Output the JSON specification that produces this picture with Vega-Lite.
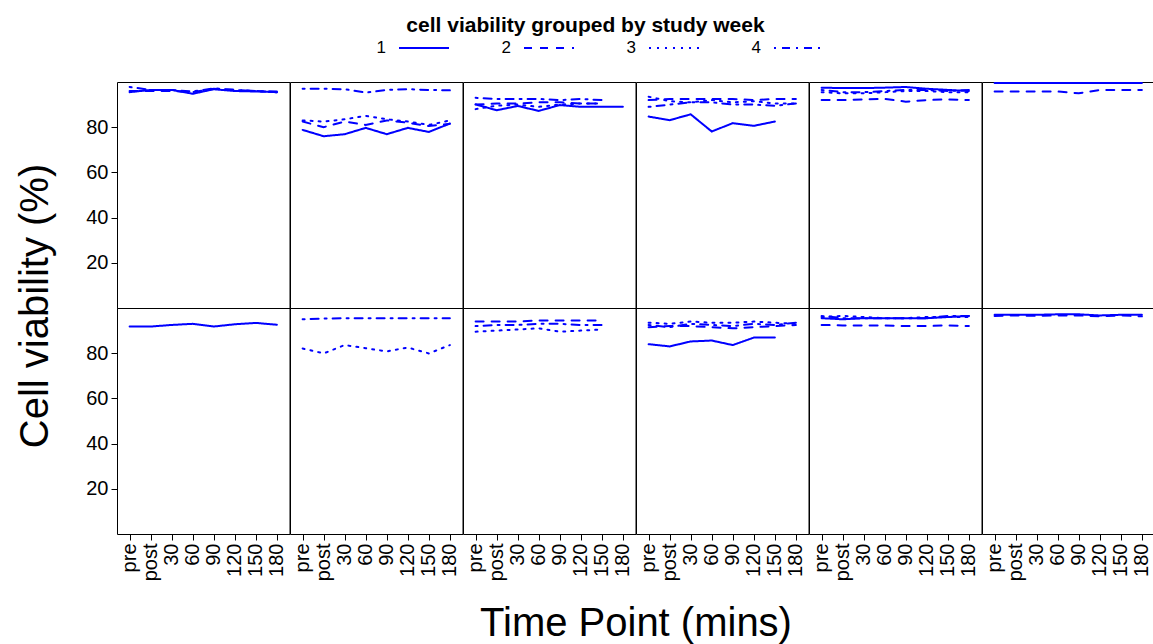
{
  "$schema": "https://vega.github.io/schema/vega-lite/v6.json",
  "padding": {"left": 15, "top": 15, "right": 0, "bottom": 0},
  "title": {"text": "cell viability grouped by study week", "fontSize": 21, "fontWeight": "bold", "font": "Liberation Sans", "color": "black", "anchor": "middle", "offset": -14},
  "data": {"values": [
    {"r":1,"c":1,"wk":"1","t":"pre","v":95.5},{"r":1,"c":1,"wk":"1","t":"post","v":96.5},{"r":1,"c":1,"wk":"1","t":"30","v":96.5},{"r":1,"c":1,"wk":"1","t":"60","v":94.8},{"r":1,"c":1,"wk":"1","t":"90","v":96.8},{"r":1,"c":1,"wk":"1","t":"120","v":96},{"r":1,"c":1,"wk":"1","t":"150","v":95.8},{"r":1,"c":1,"wk":"1","t":"180","v":95.5},
    {"r":1,"c":1,"wk":"2","t":"pre","v":96},{"r":1,"c":1,"wk":"2","t":"post","v":96},{"r":1,"c":1,"wk":"2","t":"30","v":96},{"r":1,"c":1,"wk":"2","t":"60","v":95.5},{"r":1,"c":1,"wk":"2","t":"90","v":97},{"r":1,"c":1,"wk":"2","t":"120","v":96.5},{"r":1,"c":1,"wk":"2","t":"150","v":96},{"r":1,"c":1,"wk":"2","t":"180","v":95.5},
    {"r":1,"c":1,"wk":"4","t":"pre","v":97.8},{"r":1,"c":1,"wk":"4","t":"post","v":96.5},{"r":1,"c":1,"wk":"4","t":"30","v":96.5},{"r":1,"c":1,"wk":"4","t":"60","v":95.8},{"r":1,"c":1,"wk":"4","t":"90","v":97.2},{"r":1,"c":1,"wk":"4","t":"120","v":96.5},{"r":1,"c":1,"wk":"4","t":"150","v":96},{"r":1,"c":1,"wk":"4","t":"180","v":95.8},

    {"r":1,"c":2,"wk":"1","t":"pre","v":78.8},{"r":1,"c":2,"wk":"1","t":"post","v":76},{"r":1,"c":2,"wk":"1","t":"30","v":76.9},{"r":1,"c":2,"wk":"1","t":"60","v":79.7},{"r":1,"c":2,"wk":"1","t":"90","v":76.9},{"r":1,"c":2,"wk":"1","t":"120","v":79.7},{"r":1,"c":2,"wk":"1","t":"150","v":77.9},{"r":1,"c":2,"wk":"1","t":"180","v":81.6},
    {"r":1,"c":2,"wk":"2","t":"pre","v":82.5},{"r":1,"c":2,"wk":"2","t":"post","v":80},{"r":1,"c":2,"wk":"2","t":"30","v":82.5},{"r":1,"c":2,"wk":"2","t":"60","v":81},{"r":1,"c":2,"wk":"2","t":"90","v":83},{"r":1,"c":2,"wk":"2","t":"120","v":82},{"r":1,"c":2,"wk":"2","t":"150","v":80.5},{"r":1,"c":2,"wk":"2","t":"180","v":81.5},
    {"r":1,"c":2,"wk":"3","t":"pre","v":83},{"r":1,"c":2,"wk":"3","t":"post","v":82.5},{"r":1,"c":2,"wk":"3","t":"30","v":83.5},{"r":1,"c":2,"wk":"3","t":"60","v":85},{"r":1,"c":2,"wk":"3","t":"90","v":83.5},{"r":1,"c":2,"wk":"3","t":"120","v":82.5},{"r":1,"c":2,"wk":"3","t":"150","v":81},{"r":1,"c":2,"wk":"3","t":"180","v":83},
    {"r":1,"c":2,"wk":"4","t":"pre","v":97},{"r":1,"c":2,"wk":"4","t":"post","v":97},{"r":1,"c":2,"wk":"4","t":"30","v":96.8},{"r":1,"c":2,"wk":"4","t":"60","v":95.3},{"r":1,"c":2,"wk":"4","t":"90","v":96.5},{"r":1,"c":2,"wk":"4","t":"120","v":96.8},{"r":1,"c":2,"wk":"4","t":"150","v":96.5},{"r":1,"c":2,"wk":"4","t":"180","v":96.3},

    {"r":1,"c":3,"wk":"1","t":"pre","v":90.1},{"r":1,"c":3,"wk":"1","t":"post","v":87.5},{"r":1,"c":3,"wk":"1","t":"30","v":89.4},{"r":1,"c":3,"wk":"1","t":"60","v":87.2},{"r":1,"c":3,"wk":"1","t":"90","v":89.8},{"r":1,"c":3,"wk":"1","t":"120","v":89},{"r":1,"c":3,"wk":"1","t":"150","v":89},{"r":1,"c":3,"wk":"1","t":"180","v":89},
    {"r":1,"c":3,"wk":"2","t":"pre","v":90},{"r":1,"c":3,"wk":"2","t":"post","v":90.5},{"r":1,"c":3,"wk":"2","t":"30","v":90.5},{"r":1,"c":3,"wk":"2","t":"60","v":91},{"r":1,"c":3,"wk":"2","t":"90","v":91},{"r":1,"c":3,"wk":"2","t":"120","v":90.5},{"r":1,"c":3,"wk":"2","t":"150","v":90.5},
    {"r":1,"c":3,"wk":"3","t":"pre","v":88},{"r":1,"c":3,"wk":"3","t":"post","v":89.5},{"r":1,"c":3,"wk":"3","t":"30","v":90},{"r":1,"c":3,"wk":"3","t":"60","v":89},{"r":1,"c":3,"wk":"3","t":"90","v":90},{"r":1,"c":3,"wk":"3","t":"120","v":90.5},{"r":1,"c":3,"wk":"3","t":"150","v":90.5},
    {"r":1,"c":3,"wk":"4","t":"pre","v":93},{"r":1,"c":3,"wk":"4","t":"post","v":92.5},{"r":1,"c":3,"wk":"4","t":"30","v":92.5},{"r":1,"c":3,"wk":"4","t":"60","v":92.5},{"r":1,"c":3,"wk":"4","t":"90","v":92},{"r":1,"c":3,"wk":"4","t":"120","v":92.5},{"r":1,"c":3,"wk":"4","t":"150","v":92},

    {"r":1,"c":4,"wk":"1","t":"pre","v":84.7},{"r":1,"c":4,"wk":"1","t":"post","v":83.1},{"r":1,"c":4,"wk":"1","t":"30","v":85.7},{"r":1,"c":4,"wk":"1","t":"60","v":78.1},{"r":1,"c":4,"wk":"1","t":"90","v":81.8},{"r":1,"c":4,"wk":"1","t":"120","v":80.6},{"r":1,"c":4,"wk":"1","t":"150","v":82.5},
    {"r":1,"c":4,"wk":"2","t":"pre","v":92},{"r":1,"c":4,"wk":"2","t":"post","v":92.5},{"r":1,"c":4,"wk":"2","t":"30","v":92.5},{"r":1,"c":4,"wk":"2","t":"60","v":92.5},{"r":1,"c":4,"wk":"2","t":"90","v":92.5},{"r":1,"c":4,"wk":"2","t":"120","v":92},{"r":1,"c":4,"wk":"2","t":"150","v":92.5},{"r":1,"c":4,"wk":"2","t":"180","v":92.5},
    {"r":1,"c":4,"wk":"3","t":"pre","v":93.5},{"r":1,"c":4,"wk":"3","t":"post","v":91.5},{"r":1,"c":4,"wk":"3","t":"30","v":91},{"r":1,"c":4,"wk":"3","t":"60","v":92},{"r":1,"c":4,"wk":"3","t":"90","v":91},{"r":1,"c":4,"wk":"3","t":"120","v":91.5},{"r":1,"c":4,"wk":"3","t":"150","v":90.5},{"r":1,"c":4,"wk":"3","t":"180","v":90.5},
    {"r":1,"c":4,"wk":"4","t":"pre","v":89},{"r":1,"c":4,"wk":"4","t":"post","v":90},{"r":1,"c":4,"wk":"4","t":"30","v":91},{"r":1,"c":4,"wk":"4","t":"60","v":91},{"r":1,"c":4,"wk":"4","t":"90","v":90},{"r":1,"c":4,"wk":"4","t":"120","v":90},{"r":1,"c":4,"wk":"4","t":"150","v":89.5},{"r":1,"c":4,"wk":"4","t":"180","v":90.5},

    {"r":1,"c":5,"wk":"1","t":"pre","v":97.5},{"r":1,"c":5,"wk":"1","t":"post","v":97.3},{"r":1,"c":5,"wk":"1","t":"30","v":97.3},{"r":1,"c":5,"wk":"1","t":"60","v":97.5},{"r":1,"c":5,"wk":"1","t":"90","v":97.8},{"r":1,"c":5,"wk":"1","t":"120","v":97},{"r":1,"c":5,"wk":"1","t":"150","v":96.5},{"r":1,"c":5,"wk":"1","t":"180","v":96},
    {"r":1,"c":5,"wk":"2","t":"pre","v":92},{"r":1,"c":5,"wk":"2","t":"post","v":92},{"r":1,"c":5,"wk":"2","t":"30","v":92.3},{"r":1,"c":5,"wk":"2","t":"60","v":92.5},{"r":1,"c":5,"wk":"2","t":"90","v":91.3},{"r":1,"c":5,"wk":"2","t":"120","v":92},{"r":1,"c":5,"wk":"2","t":"150","v":92.3},{"r":1,"c":5,"wk":"2","t":"180","v":92},
    {"r":1,"c":5,"wk":"3","t":"pre","v":95.5},{"r":1,"c":5,"wk":"3","t":"post","v":95},{"r":1,"c":5,"wk":"3","t":"30","v":95},{"r":1,"c":5,"wk":"3","t":"60","v":95.5},{"r":1,"c":5,"wk":"3","t":"90","v":96},{"r":1,"c":5,"wk":"3","t":"120","v":96},{"r":1,"c":5,"wk":"3","t":"150","v":95.5},{"r":1,"c":5,"wk":"3","t":"180","v":95.5},
    {"r":1,"c":5,"wk":"4","t":"pre","v":96.5},{"r":1,"c":5,"wk":"4","t":"post","v":95.5},{"r":1,"c":5,"wk":"4","t":"30","v":95.5},{"r":1,"c":5,"wk":"4","t":"60","v":96},{"r":1,"c":5,"wk":"4","t":"90","v":96.5},{"r":1,"c":5,"wk":"4","t":"120","v":96.5},{"r":1,"c":5,"wk":"4","t":"150","v":96},{"r":1,"c":5,"wk":"4","t":"180","v":96.5},

    {"r":1,"c":6,"wk":"1","t":"pre","v":99.6},{"r":1,"c":6,"wk":"1","t":"post","v":99.6},{"r":1,"c":6,"wk":"1","t":"30","v":99.6},{"r":1,"c":6,"wk":"1","t":"60","v":99.6},{"r":1,"c":6,"wk":"1","t":"90","v":99.6},{"r":1,"c":6,"wk":"1","t":"120","v":99.6},{"r":1,"c":6,"wk":"1","t":"150","v":99.6},{"r":1,"c":6,"wk":"1","t":"180","v":99.6},
    {"r":1,"c":6,"wk":"2","t":"pre","v":95.8},{"r":1,"c":6,"wk":"2","t":"post","v":95.8},{"r":1,"c":6,"wk":"2","t":"30","v":95.8},{"r":1,"c":6,"wk":"2","t":"60","v":95.8},{"r":1,"c":6,"wk":"2","t":"90","v":95},{"r":1,"c":6,"wk":"2","t":"120","v":96.5},{"r":1,"c":6,"wk":"2","t":"150","v":96.5},{"r":1,"c":6,"wk":"2","t":"180","v":96.5},

    {"r":2,"c":1,"wk":"1","t":"pre","v":91.8},{"r":2,"c":1,"wk":"1","t":"post","v":91.8},{"r":2,"c":1,"wk":"1","t":"30","v":92.5},{"r":2,"c":1,"wk":"1","t":"60","v":93},{"r":2,"c":1,"wk":"1","t":"90","v":91.8},{"r":2,"c":1,"wk":"1","t":"120","v":92.8},{"r":2,"c":1,"wk":"1","t":"150","v":93.4},{"r":2,"c":1,"wk":"1","t":"180","v":92.6},

    {"r":2,"c":2,"wk":"3","t":"pre","v":82.1},{"r":2,"c":2,"wk":"3","t":"post","v":79.9},{"r":2,"c":2,"wk":"3","t":"30","v":83.6},{"r":2,"c":2,"wk":"3","t":"60","v":82.2},{"r":2,"c":2,"wk":"3","t":"90","v":80.8},{"r":2,"c":2,"wk":"3","t":"120","v":82.5},{"r":2,"c":2,"wk":"3","t":"150","v":79.9},{"r":2,"c":2,"wk":"3","t":"180","v":83.6},
    {"r":2,"c":2,"wk":"4","t":"pre","v":95},{"r":2,"c":2,"wk":"4","t":"post","v":95.3},{"r":2,"c":2,"wk":"4","t":"30","v":95.5},{"r":2,"c":2,"wk":"4","t":"60","v":95.5},{"r":2,"c":2,"wk":"4","t":"90","v":95.5},{"r":2,"c":2,"wk":"4","t":"120","v":95.5},{"r":2,"c":2,"wk":"4","t":"150","v":95.5},{"r":2,"c":2,"wk":"4","t":"180","v":95.5},

    {"r":2,"c":3,"wk":"2","t":"pre","v":94},{"r":2,"c":3,"wk":"2","t":"post","v":94},{"r":2,"c":3,"wk":"2","t":"30","v":94},{"r":2,"c":3,"wk":"2","t":"60","v":94.5},{"r":2,"c":3,"wk":"2","t":"90","v":94.5},{"r":2,"c":3,"wk":"2","t":"120","v":94.5},{"r":2,"c":3,"wk":"2","t":"150","v":94.5},
    {"r":2,"c":3,"wk":"3","t":"pre","v":89.5},{"r":2,"c":3,"wk":"3","t":"post","v":90},{"r":2,"c":3,"wk":"3","t":"30","v":90.5},{"r":2,"c":3,"wk":"3","t":"60","v":91},{"r":2,"c":3,"wk":"3","t":"90","v":89.5},{"r":2,"c":3,"wk":"3","t":"120","v":90},{"r":2,"c":3,"wk":"3","t":"150","v":90.5},
    {"r":2,"c":3,"wk":"4","t":"pre","v":92},{"r":2,"c":3,"wk":"4","t":"post","v":92.5},{"r":2,"c":3,"wk":"4","t":"30","v":92.5},{"r":2,"c":3,"wk":"4","t":"60","v":93},{"r":2,"c":3,"wk":"4","t":"90","v":93},{"r":2,"c":3,"wk":"4","t":"120","v":92.5},{"r":2,"c":3,"wk":"4","t":"150","v":92.5},

    {"r":2,"c":4,"wk":"1","t":"pre","v":84},{"r":2,"c":4,"wk":"1","t":"post","v":83},{"r":2,"c":4,"wk":"1","t":"30","v":85.2},{"r":2,"c":4,"wk":"1","t":"60","v":85.6},{"r":2,"c":4,"wk":"1","t":"90","v":83.6},{"r":2,"c":4,"wk":"1","t":"120","v":86.9},{"r":2,"c":4,"wk":"1","t":"150","v":87},
    {"r":2,"c":4,"wk":"2","t":"pre","v":91.5},{"r":2,"c":4,"wk":"2","t":"post","v":92},{"r":2,"c":4,"wk":"2","t":"30","v":92},{"r":2,"c":4,"wk":"2","t":"60","v":91.5},{"r":2,"c":4,"wk":"2","t":"90","v":91},{"r":2,"c":4,"wk":"2","t":"120","v":91.5},{"r":2,"c":4,"wk":"2","t":"150","v":92},{"r":2,"c":4,"wk":"2","t":"180","v":92.5},
    {"r":2,"c":4,"wk":"3","t":"pre","v":93.5},{"r":2,"c":4,"wk":"3","t":"post","v":93},{"r":2,"c":4,"wk":"3","t":"30","v":94},{"r":2,"c":4,"wk":"3","t":"60","v":93.5},{"r":2,"c":4,"wk":"3","t":"90","v":93.5},{"r":2,"c":4,"wk":"3","t":"120","v":94},{"r":2,"c":4,"wk":"3","t":"150","v":93.5},{"r":2,"c":4,"wk":"3","t":"180","v":93},
    {"r":2,"c":4,"wk":"4","t":"pre","v":92.5},{"r":2,"c":4,"wk":"4","t":"post","v":91.5},{"r":2,"c":4,"wk":"4","t":"30","v":93},{"r":2,"c":4,"wk":"4","t":"60","v":92.5},{"r":2,"c":4,"wk":"4","t":"90","v":92},{"r":2,"c":4,"wk":"4","t":"120","v":93},{"r":2,"c":4,"wk":"4","t":"150","v":92.5},{"r":2,"c":4,"wk":"4","t":"180","v":93.5},

    {"r":2,"c":5,"wk":"1","t":"pre","v":95.5},{"r":2,"c":5,"wk":"1","t":"post","v":95},{"r":2,"c":5,"wk":"1","t":"30","v":95.5},{"r":2,"c":5,"wk":"1","t":"60","v":95.5},{"r":2,"c":5,"wk":"1","t":"90","v":95.5},{"r":2,"c":5,"wk":"1","t":"120","v":95.5},{"r":2,"c":5,"wk":"1","t":"150","v":96},{"r":2,"c":5,"wk":"1","t":"180","v":96.5},
    {"r":2,"c":5,"wk":"2","t":"pre","v":92.5},{"r":2,"c":5,"wk":"2","t":"post","v":92.3},{"r":2,"c":5,"wk":"2","t":"30","v":92.3},{"r":2,"c":5,"wk":"2","t":"60","v":92.3},{"r":2,"c":5,"wk":"2","t":"90","v":92},{"r":2,"c":5,"wk":"2","t":"120","v":92},{"r":2,"c":5,"wk":"2","t":"150","v":92.3},{"r":2,"c":5,"wk":"2","t":"180","v":92},
    {"r":2,"c":5,"wk":"3","t":"pre","v":96},{"r":2,"c":5,"wk":"3","t":"post","v":96.5},{"r":2,"c":5,"wk":"3","t":"30","v":96},{"r":2,"c":5,"wk":"3","t":"60","v":95.5},{"r":2,"c":5,"wk":"3","t":"90","v":95.5},{"r":2,"c":5,"wk":"3","t":"120","v":96},{"r":2,"c":5,"wk":"3","t":"150","v":96},{"r":2,"c":5,"wk":"3","t":"180","v":96},
    {"r":2,"c":5,"wk":"4","t":"pre","v":96.5},{"r":2,"c":5,"wk":"4","t":"post","v":95.5},{"r":2,"c":5,"wk":"4","t":"30","v":95.5},{"r":2,"c":5,"wk":"4","t":"60","v":95.5},{"r":2,"c":5,"wk":"4","t":"90","v":95.5},{"r":2,"c":5,"wk":"4","t":"120","v":95.5},{"r":2,"c":5,"wk":"4","t":"150","v":96.5},{"r":2,"c":5,"wk":"4","t":"180","v":96.5},

    {"r":2,"c":6,"wk":"1","t":"pre","v":97},{"r":2,"c":6,"wk":"1","t":"post","v":97},{"r":2,"c":6,"wk":"1","t":"30","v":97},{"r":2,"c":6,"wk":"1","t":"60","v":97.2},{"r":2,"c":6,"wk":"1","t":"90","v":97.2},{"r":2,"c":6,"wk":"1","t":"120","v":96.7},{"r":2,"c":6,"wk":"1","t":"150","v":97},{"r":2,"c":6,"wk":"1","t":"180","v":97},
    {"r":2,"c":6,"wk":"2","t":"pre","v":96.5},{"r":2,"c":6,"wk":"2","t":"post","v":96.7},{"r":2,"c":6,"wk":"2","t":"30","v":96.5},{"r":2,"c":6,"wk":"2","t":"60","v":96.7},{"r":2,"c":6,"wk":"2","t":"90","v":96.7},{"r":2,"c":6,"wk":"2","t":"120","v":96.3},{"r":2,"c":6,"wk":"2","t":"150","v":96.7},{"r":2,"c":6,"wk":"2","t":"180","v":96.3}
  ]},
  "facet": {
    "row": {"field": "r", "type": "ordinal", "header": {"labels": false, "title": "Cell viability (%)", "titleFontSize": 40, "titleFontWeight": "normal", "titleFont": "Liberation Sans", "titleColor": "black", "titlePadding": 19}},
    "column": {"field": "c", "type": "ordinal", "header": {"labels": false, "title": "Time Point (mins)", "titleOrient": "bottom", "titleFontSize": 40, "titleFontWeight": "normal", "titleFont": "Liberation Sans", "titleColor": "black", "titlePadding": 13}}
  },
  "spacing": 0,
  "bounds": "flush",
  "spec": {
    "width": 172.5,
    "height": 226,
    "mark": {"type": "line", "strokeWidth": 2, "color": "#0000ff", "strokeCap": "round"},
    "encoding": {
      "x": {"field": "t", "type": "ordinal", "sort": ["pre","post","30","60","90","120","150","180"], "scale": {"type": "point", "padding": 0.6},
        "axis": {"title": null, "labelAngle": 270, "labelFontSize": 20, "labelFont": "Liberation Sans", "labelColor": "black", "domain": false, "grid": false, "tickSize": 6, "tickColor": "black", "labelPadding": 3}},
      "y": {"field": "v", "type": "quantitative", "scale": {"domain": [0, 100], "nice": false, "zero": false},
        "axis": {"title": null, "values": [20, 40, 60, 80], "labelFontSize": 20, "labelFont": "Liberation Sans", "labelColor": "black", "domain": false, "grid": false, "tickSize": 6, "tickColor": "black", "labelPadding": 3}},
      "strokeDash": {"field": "wk", "type": "nominal", "scale": {"domain": ["1","2","3","4"], "range": [[1,0],[8,8],[2,6],[2,6,8,6]]},
        "legend": {"title": null, "orient": "none", "legendX": 281, "legendY": -60, "direction": "horizontal", "symbolType": "stroke", "symbolSize": 2500, "symbolStrokeWidth": 2, "symbolStrokeColor": "#0000ff", "labelFontSize": 17, "labelFont": "Liberation Sans", "labelColor": "black", "labelAlign": "right", "labelOffset": -64, "columnPadding": 48}}
    }
  },
  "config": {
    "view": {"stroke": "black", "strokeWidth": 1},
    "font": "Liberation Sans",
    "background": "white"
  }
}
